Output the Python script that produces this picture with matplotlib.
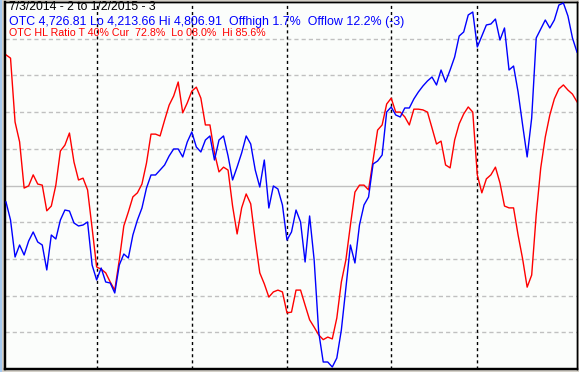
import matplotlib
matplotlib.use("Agg")
import matplotlib.pyplot as plt
from matplotlib.patches import Rectangle

# ---- data (one value per trading day, 7/3/2014 .. 1/2/2015) ----
otc_close = [
    4482.6, 4453.2, 4392.9, 4412.5, 4396.2, 4419.0, 4433.7, 4417.4, 4412.5, 4371.8,
    4428.8, 4422.3, 4453.2, 4469.5, 4467.9, 4448.4, 4443.5, 4445.1, 4450.0, 4379.9,
    4355.5, 4375.0, 4352.2, 4350.6, 4334.3, 4379.9, 4397.8, 4391.3, 4428.8, 4453.2,
    4472.8, 4505.4, 4526.6, 4526.6, 4534.7, 4542.9, 4557.6, 4569.0, 4569.0, 4556.0,
    4580.4, 4596.7, 4572.2, 4564.1, 4583.6, 4590.2, 4551.0, 4583.6, 4590.2, 4557.6,
    4518.5, 4539.6, 4562.5, 4590.2, 4577.1, 4534.7, 4507.0, 4551.0, 4472.8, 4508.7,
    4503.8, 4477.7, 4420.6, 4433.7, 4469.5, 4450.0, 4384.8, 4459.8, 4388.0, 4270.7,
    4221.8, 4221.8, 4213.66, 4228.3, 4274.0, 4342.4, 4412.5, 4383.2, 4445.1, 4477.7,
    4490.7, 4544.5, 4549.4, 4559.2, 4629.3, 4637.4, 4624.4, 4621.1, 4635.8, 4635.8,
    4650.5, 4661.9, 4671.6, 4679.8, 4686.3, 4673.3, 4697.7, 4678.2, 4697.7, 4718.9,
    4753.1, 4759.7, 4787.4, 4792.2, 4735.2, 4753.1, 4771.1, 4772.7, 4780.8, 4746.6,
    4766.2, 4697.7, 4704.2, 4661.9, 4608.1, 4556.0, 4619.5, 4749.9, 4764.5, 4779.2,
    4766.2, 4779.2, 4803.6, 4806.91, 4785.7, 4749.9, 4726.81,
]
hl_ratio = [
    85.6, 84.7, 67.3, 61.9, 49.3, 49.9, 52.9, 50.4, 50.1, 43.1,
    44.4, 50.1, 59.4, 61.0, 64.3, 56.4, 51.5, 52.0, 48.8, 38.4,
    27.8, 27.2, 26.2, 23.7, 21.5, 29.7, 39.0, 42.8, 46.9, 48.0,
    50.4, 56.1, 64.0, 64.0, 63.5, 67.8, 71.9, 74.4, 78.2, 69.8,
    72.5, 75.7, 76.8, 73.8, 66.5, 66.5, 58.9, 53.7, 55.0, 54.2,
    44.4, 36.8, 43.9, 47.7, 45.0, 35.1, 26.2, 23.2, 19.6, 21.0,
    21.5, 21.0, 15.3, 15.5, 21.5, 21.5, 17.4, 13.4, 11.4, 9.3,
    8.0, 8.7, 8.2, 13.9, 23.7, 29.7, 39.2, 48.2, 50.1, 50.1,
    48.8, 56.9, 65.1, 66.5, 72.2, 73.8, 70.0, 70.0, 68.7, 66.5,
    70.8, 70.8, 70.6, 70.0, 65.7, 61.3, 62.1, 55.6, 54.8, 62.4,
    66.8, 69.5, 71.4, 70.0, 52.9, 48.0, 51.8, 52.9, 55.0, 50.7,
    44.4, 43.9, 43.9, 36.5, 30.0, 22.3, 25.6, 42.0, 54.8, 63.2,
    69.2, 73.6, 76.3, 77.4, 76.0, 74.9, 72.8,
]
month_start_idx = [20, 41, 62, 85, 104]   # Aug, Sep, Oct, Nov, Dec
grid_levels = [10, 20, 30, 40, 60, 70, 80, 90]
mid_level = 50
otc_lo, otc_hi = 4213.66, 4806.91

title_lines = [
    ("7/3/2014 - 2 to 1/2/2015 - 3", "#000000"),
    ("OTC 4,726.81 Lo 4,213.66 Hi 4,806.91  Offhigh 1.7%  Offlow 12.2% (-3)", "#0000ff"),
    ("OTC HL Ratio T 40% Cur  72.8%  Lo 08.0%  Hi 85.6%", "#ff0000"),
]
title_sizes = [8.8, 8.9, 7.7]

W, H = 579, 372
fig = plt.figure(figsize=(W / 100, H / 100), dpi=100)
fig.patch.set_facecolor("#d4d0c8")
fig.patches.append(Rectangle((0, 0), 2 / W, 1, transform=fig.transFigure,
                             facecolor="#a6caf0", edgecolor="none", zorder=0))

L, R, T, B = 5, 577, 2, 369
ax = fig.add_axes([L / W, (H - B) / H, (R - L) / W, (B - T) / H])
ax.set_facecolor("#fbfdfb")
n = len(hl_ratio)
x = list(range(n))
ax.set_xlim(-0.22, n - 1 + 0.0)
ax.set_ylim(0, 100)

for g in grid_levels:
    ax.axhline(g, color="#c0c0c0", lw=1.0, linestyle=(0, (3, 2.2)), zorder=1)
ax.axhline(mid_level, color="#c0c0c0", lw=1.0, zorder=1)
for m in month_start_idx:
    ax.axvline(m, color="#000000", lw=1.0, linestyle=(0, (2.2, 2.2)), zorder=2)

ax.plot(x, hl_ratio, color="#ff0000", lw=1.0, zorder=4)
ax.set_xticks([])
ax.set_yticks([])

ax2 = ax.twinx()
px = (otc_hi - otc_lo) / 364.0
ax2.set_ylim(otc_lo - 2 * px, otc_hi + 1 * px)
ax2.plot(x, otc_close, color="#0000ff", lw=1.0, zorder=4)
ax2.set_yticks([])
ax2.set_xticks([])

for a in (ax, ax2):
    for s in a.spines.values():
        s.set_color("#000000")
        s.set_linewidth(1.0)
    a.spines["left"].set_linewidth(1.6)
    a.spines["bottom"].set_linewidth(1.6)

tops = [1.5, 15.5, 28.0]
for (txt, col), tp, fs in zip(title_lines, tops, title_sizes):
    fig.text(9 / W, 1 - tp / H, txt, color=col, fontsize=fs,
             family="Liberation Sans", va="top", ha="left", zorder=10)

fig.savefig("out.png", dpi=100, facecolor=fig.get_facecolor())
